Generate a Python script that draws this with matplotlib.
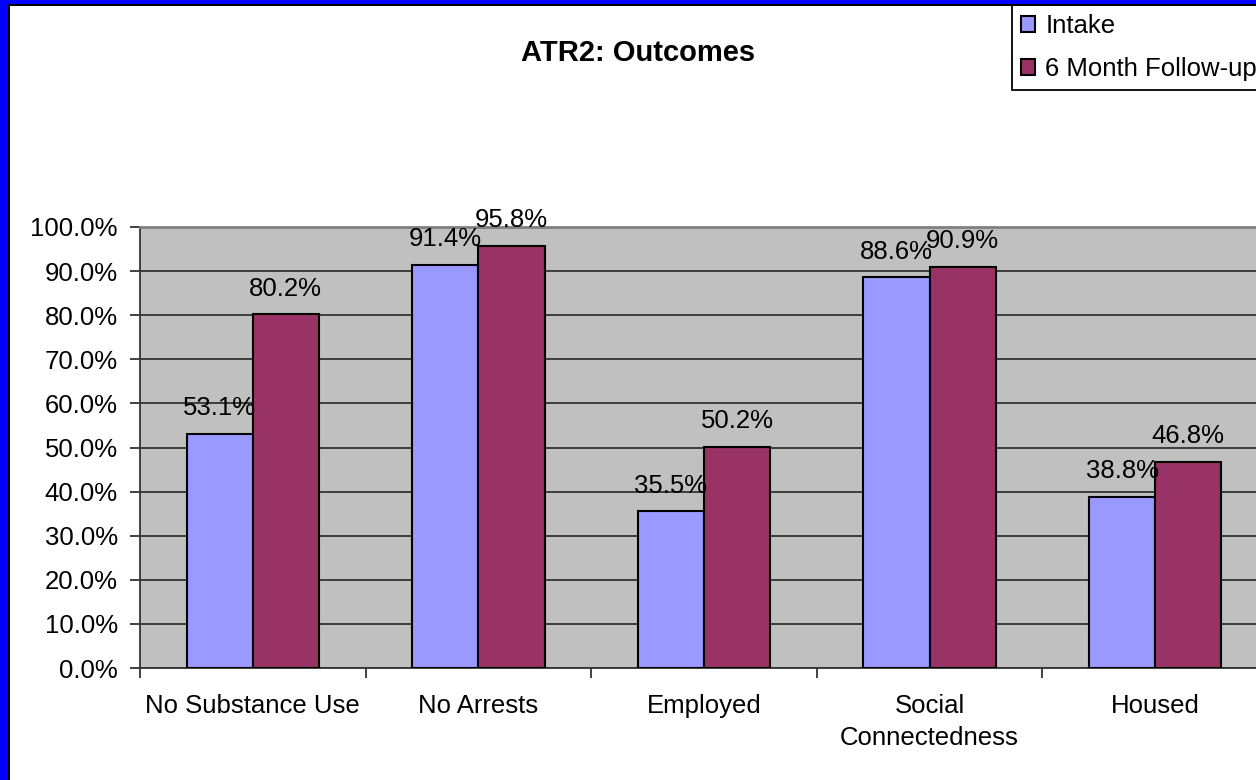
import matplotlib
matplotlib.use("Agg")
import matplotlib.pyplot as plt
from matplotlib.patches import Rectangle
import numpy as np

plt.rcParams['font.family'] = ['Liberation Sans', 'DejaVu Sans']

categories = ["No Substance Use", "No Arrests", "Employed", "Social\nConnectedness", "Housed"]
intake = [53.1, 91.4, 35.5, 88.6, 38.8]
followup = [80.2, 95.8, 50.2, 90.9, 46.8]
series_names = ["Intake", "6 Month Follow-up"]
yticks = [0, 10, 20, 30, 40, 50, 60, 70, 80, 90, 100]

W, H = 1256, 780
FS = 18.5
fig = plt.figure(figsize=(W / 100, H / 100), dpi=100)
fig.patch.set_facecolor("white")

# Blue frame (left and top) with black inner line
fig.patches.append(Rectangle((0, 0), 8 / W, 1, transform=fig.transFigure, facecolor="#0000FF", edgecolor="none", zorder=10))
fig.patches.append(Rectangle((0, 1 - 4 / H), 1, 4 / H, transform=fig.transFigure, facecolor="#0000FF", edgecolor="none", zorder=10))
fig.patches.append(Rectangle((8 / W, 0), 2 / W, 1 - 4 / H, transform=fig.transFigure, facecolor="black", edgecolor="none", zorder=10))
fig.patches.append(Rectangle((8 / W, 1 - 6 / H), 1, 2 / H, transform=fig.transFigure, facecolor="black", edgecolor="none", zorder=10))

left, right = 140 / W, 1268 / W
bottom, top = 1 - 668 / H, 1 - 227 / H
ax = fig.add_axes([left, bottom, right - left, top - bottom])
ax.set_facecolor("#C0C0C0")

x = np.arange(len(categories))
bw = 0.293
b1 = ax.bar(x - bw / 2, intake, bw, color="#9999FF", edgecolor="black", linewidth=1.5, zorder=3, label=series_names[0])
b2 = ax.bar(x + bw / 2, followup, bw, color="#993366", edgecolor="black", linewidth=1.5, zorder=3, label=series_names[1])

for bars, vals in ((b1, intake), (b2, followup)):
    for r, v in zip(bars, vals):
        ax.annotate(f"{v:.1f}%", (r.get_x() + r.get_width() / 2, v), xytext=(0, 18.5),
                    textcoords="offset points", ha="center", va="center", fontsize=FS,
                    color="black", zorder=5, annotation_clip=False)

ax.set_xlim(-0.5, len(categories) - 0.5)
ax.set_ylim(0, 100)
ax.set_yticks(yticks)
ax.set_yticklabels([f"{t:.1f}%" for t in yticks], fontsize=FS)
ax.yaxis.grid(True, color="#333333", linewidth=1.3, zorder=1)
ax.set_axisbelow(True)

ax.set_xticks(np.arange(len(categories) + 1) - 0.5)
ax.set_xticklabels([])
ax.set_xticks(x, minor=True)
ax.set_xticklabels(categories, minor=True, fontsize=FS, linespacing=1.42)
ax.tick_params(axis="x", which="minor", length=0, pad=19)
ax.tick_params(axis="x", which="major", length=7, width=1.3, color="#333333", direction="out")
ax.tick_params(axis="y", length=7, width=1.3, color="#333333", direction="out", pad=9)

for s in ["left", "bottom"]:
    ax.spines[s].set_color("#333333")
    ax.spines[s].set_linewidth(1.3)
ax.spines["top"].set_color("#808080")
ax.spines["top"].set_linewidth(2)
ax.spines["right"].set_visible(False)

fig.text(638 / W, 1 - 53 / H, "ATR2: Outcomes", ha="center", va="center", fontsize=21, fontweight="bold")

leg = fig.legend(handles=[b1, b2], labels=series_names, loc="upper left",
                 bbox_to_anchor=(1012 / W, 1 - 5 / H), fontsize=FS, frameon=True,
                 fancybox=False, edgecolor="black", framealpha=1, borderpad=0.35,
                 handlelength=0.55, handleheight=0.55, handletextpad=0.4, labelspacing=0.75,
                 borderaxespad=0)
leg.get_frame().set_linewidth(1.3)

fig.savefig("out.png", dpi=100)
